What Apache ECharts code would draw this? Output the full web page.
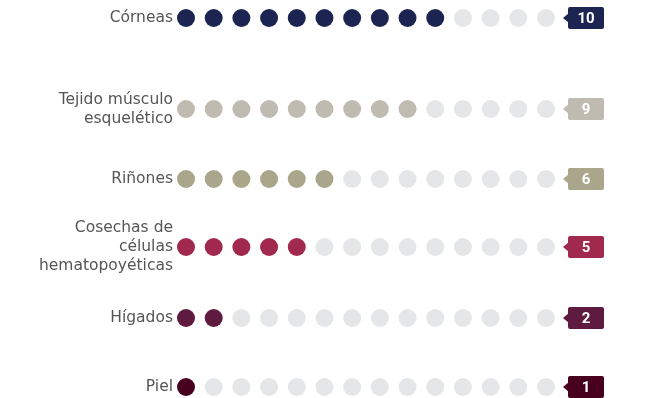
<!DOCTYPE html>
<html>
<head>
<meta charset="utf-8">
<script src="https://cdn.jsdelivr.net/npm/echarts@6/dist/echarts.min.js"></script>
<style>
  html, body { margin: 0; padding: 0; background: #fff; }
  #chart { width: 650px; height: 398px; }
</style>
</head>
<body>
<div id="chart"></div>
<script>
// datos
var categories = ["Córneas", "Tejido músculo\nesquelético", "Riñones", "Cosechas de\ncélulas\nhematopoyéticas", "Hígados", "Piel"];
var values = [10, 9, 6, 5, 2, 1];
var colors = ["#1c2551", "#bfbbb0", "#a9a68c", "#a0294d", "#5e1b3f", "#48001f"];
var totalDots = 14;

// layout de filas (centro vertical de cada fila)
var rowCenters = [18, 109, 179, 247, 318, 387];
var emptyColor = "#e5e6e8";
var labelFont = "'DejaVu Sans', sans-serif";

var chart = echarts.init(document.getElementById("chart"));

var grids = [], xAxes = [], yAxes = [], series = [];

categories.forEach(function (name, i) {
  grids.push({ left: 186, right: 104, top: rowCenters[i] - 10, height: 20 });
  xAxes.push({
    gridIndex: i, type: "value", min: 0, max: totalDots - 1,
    show: false
  });
  yAxes.push({
    gridIndex: i, type: "category", data: [name],
    axisLine: { show: false }, axisTick: { show: false }, splitLine: { show: false },
    axisLabel: {
      margin: 13, fontSize: 15.5, color: "#555", lineHeight: 19,
      fontFamily: labelFont, align: "right", padding: [3, 0, 0, 0]
    }
  });

  var dots = [];
  for (var k = 0; k < totalDots; k++) {
    dots.push({ value: [k, 0], itemStyle: { color: k < values[i] ? colors[i] : emptyColor, opacity: 1 } });
  }
  series.push({
    type: "scatter", xAxisIndex: i, yAxisIndex: i,
    symbol: "circle", symbolSize: 18, data: dots, silent: true,
    itemStyle: { opacity: 1 }
  });

  // etiqueta con el total
  series.push({
    type: "custom", xAxisIndex: i, yAxisIndex: i, silent: true,
    data: [[totalDots - 1, 0, values[i]]],
    renderItem: (function (color) {
      return function (params, api) {
        var p = api.coord([api.value(0), api.value(1)]);
        var x0 = p[0] + 22, y = p[1];
        var w = 36, h = 22;
        return {
          type: "group",
          children: [
            { type: "rect", shape: { x: x0, y: y - h / 2, width: w, height: h, r: 2 }, style: { fill: color } },
            { type: "polygon", shape: { points: [[x0 - 5, y], [x0 + 1, y - 5], [x0 + 1, y + 5]] }, style: { fill: color } },
            { type: "text", x: x0 + w / 2, y: y + 1, style: {
              text: String(api.value(2)), fill: "#fff", font: "bold 15px Roboto, sans-serif",
              align: "center", verticalAlign: "middle" } }
          ]
        };
      };
    })(colors[i])
  });
});

chart.setOption({
  animation: false,
  grid: grids,
  xAxis: xAxes,
  yAxis: yAxes,
  series: series
});
</script>
</body>
</html>
